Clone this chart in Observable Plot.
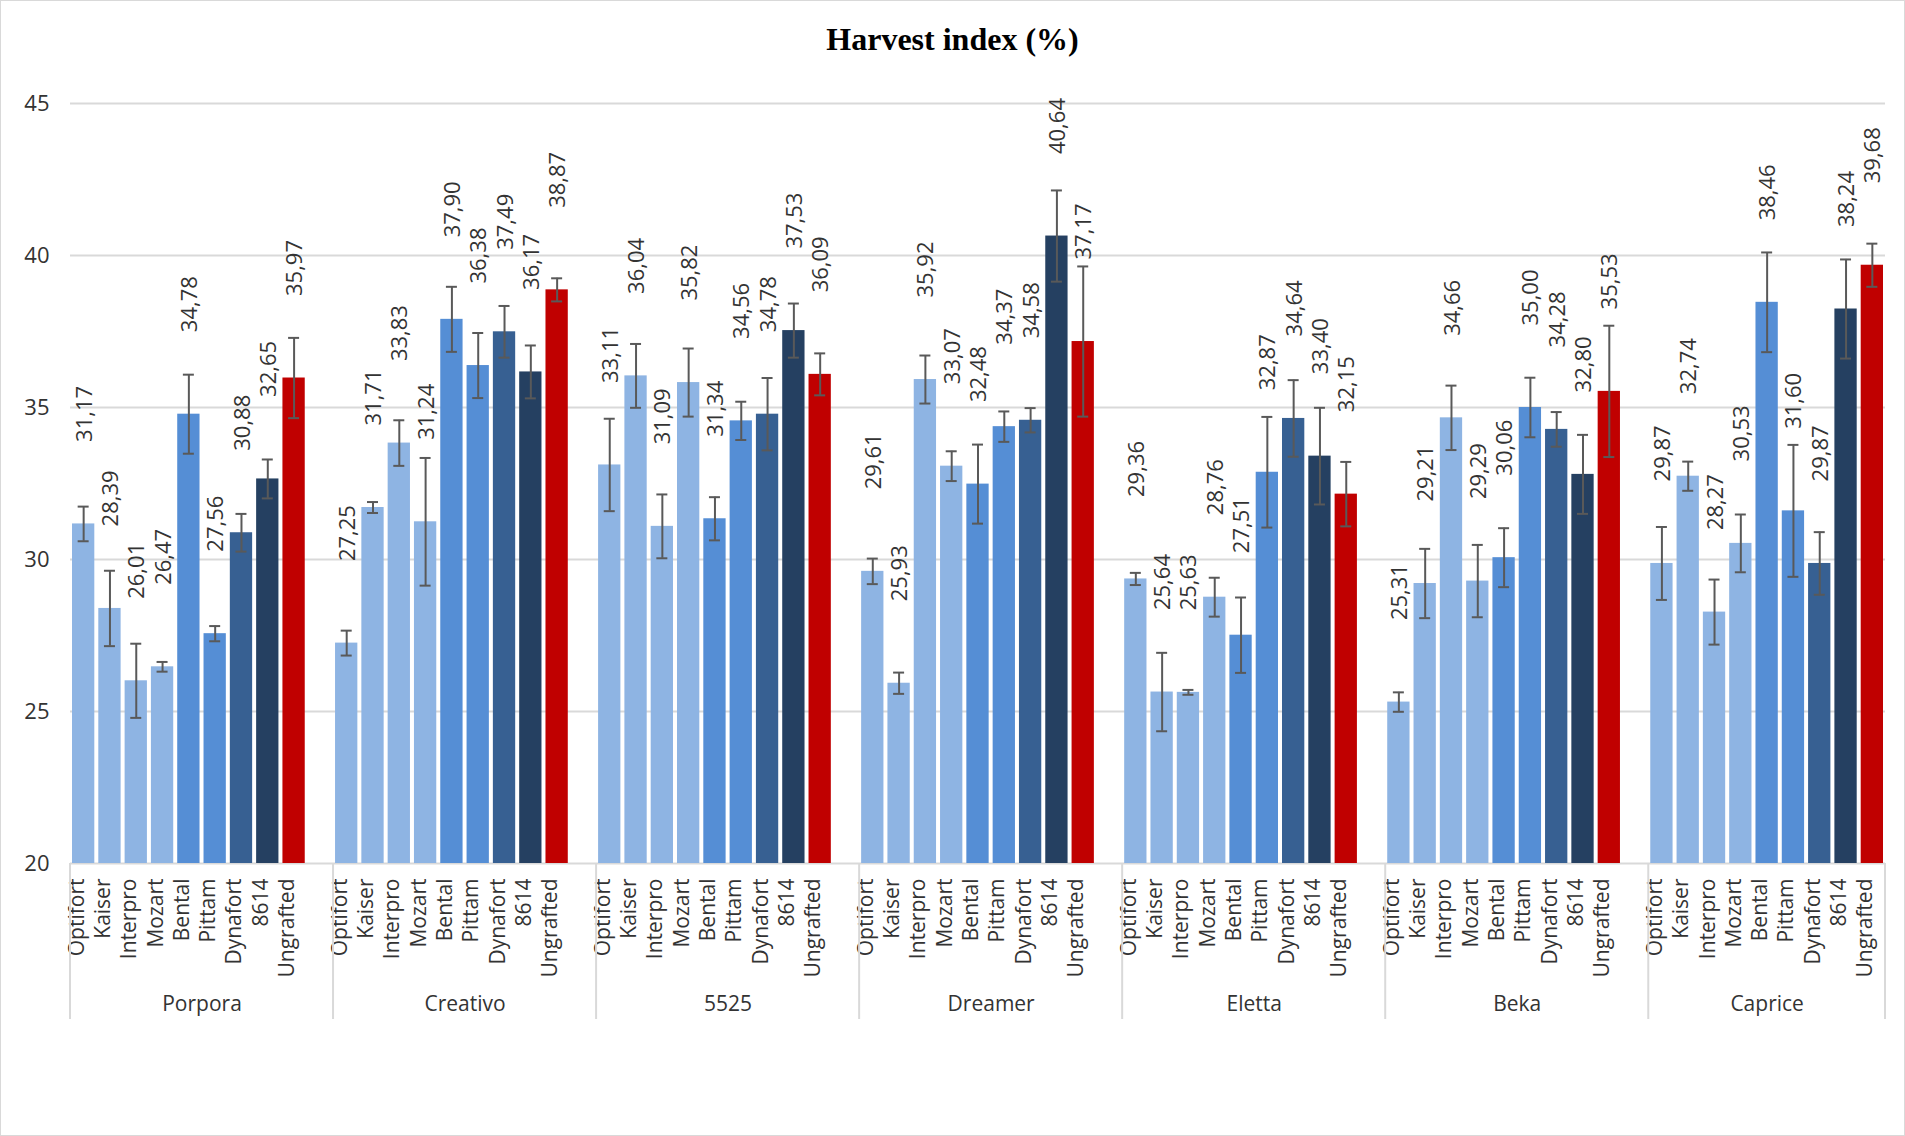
<!DOCTYPE html>
<html>
<head>
<meta charset="utf-8">
<script src="https://cdn.jsdelivr.net/npm/d3@7"></script>
<script src="https://cdn.jsdelivr.net/npm/@observablehq/plot@0.6"></script>
<style>
html, body { margin: 0; padding: 0; background: #fff; }
#frame { width: 1905px; height: 1136px; box-sizing: border-box; border: 1px solid #d9d9d9; background: #fff; overflow: hidden; }
#title { height: 70px; box-sizing: border-box; padding-top: 18px; line-height: 40px; text-align: center;
  font-family: "Liberation Serif", "Times New Roman", serif; font-weight: bold; font-size: 32px; color: #000; }
#chart svg { display: block; }
</style>
</head>
<body>
<div id="frame">
  <div id="title">Harvest index (%)</div>
  <div id="chart"></div>
</div>
<script>
// ---- data ----
const groups = ["Porpora", "Creativo", "5525", "Dreamer", "Eletta", "Beka", "Caprice"];
const rootstocks = ["Optifort", "Kaiser", "Interpro", "Mozart", "Bental", "Pittam", "Dynafort", "8614", "Ungrafted"];
const yTicks = [20, 25, 30, 35, 40, 45];

// harvest index means per group (in rootstock order)
const porpora  = [31.17, 28.39, 26.01, 26.47, 34.78, 27.56, 30.88, 32.65, 35.97];
const creativo = [27.25, 31.71, 33.83, 31.24, 37.90, 36.38, 37.49, 36.17, 38.87];
const g5525    = [33.11, 36.04, 31.09, 35.82, 31.34, 34.56, 34.78, 37.53, 36.09];
const dreamer  = [29.61, 25.93, 35.92, 33.07, 32.48, 34.37, 34.58, 40.64, 37.17];
const eletta   = [29.36, 25.64, 25.63, 28.76, 27.51, 32.87, 34.64, 33.40, 32.15];
const beka     = [25.31, 29.21, 34.66, 29.29, 30.06, 35.00, 34.28, 32.80, 35.53];
const caprice  = [29.87, 32.74, 28.27, 30.53, 38.46, 31.60, 29.87, 38.24, 39.68];

// error bar half-lengths
const errPorpora  = [0.57, 1.24, 1.22, 0.16, 1.30, 0.25, 0.62, 0.64, 1.32];
const errCreativo = [0.41, 0.18, 0.75, 2.10, 1.07, 1.07, 0.85, 0.87, 0.38];
const err5525     = [1.52, 1.05, 1.05, 1.12, 0.71, 0.63, 1.19, 0.89, 0.69];
const errDreamer  = [0.42, 0.35, 0.79, 0.49, 1.30, 0.50, 0.40, 1.50, 2.47];
const errEletta   = [0.20, 1.29, 0.08, 0.64, 1.24, 1.82, 1.26, 1.59, 1.06];
const errBeka     = [0.32, 1.14, 1.06, 1.19, 0.97, 0.98, 0.57, 1.30, 2.16];
const errCaprice  = [1.20, 0.48, 1.07, 0.95, 1.64, 2.17, 1.03, 1.63, 0.71];

// ---- styles ----
const colors = ["#8EB4E3", "#8EB4E3", "#8EB4E3", "#8EB4E3", "#558ED5", "#558ED5", "#376092", "#254061", "#C00000"];

// ---- build table ----
const groupValues = [porpora, creativo, g5525, dreamer, eletta, beka, caprice];
const groupErrors = [errPorpora, errCreativo, err5525, errDreamer, errEletta, errBeka, errCaprice];
const SPACER = "__spacer__";
const key = (g, r) => g + "|" + r;
const slots = [];
groups.forEach((g, i) => {
  rootstocks.forEach(r => slots.push(key(g, r)));
  if (i < groups.length - 1) slots.push(key(g, SPACER));
});
const rows = [];
groups.forEach((g, i) => rootstocks.forEach((r, j) => rows.push({
  group: g, rootstock: r, key: key(g, r), value: groupValues[i][j], err: groupErrors[i][j]
})));

const W = 1903, H = 1064, ML = 69, MR = 19, MT = 32, MB = 272;
const slotW = (W - ML - MR) / slots.length;
const capInset = (slotW - 11) / 2;
const fmt = v => d3.format(".2f")(v).replace(".", ",");
const lineColor = "#d9d9d9";

function separators(index, scales) {
  const g = d3.create("svg:g").attr("stroke", lineColor).attr("stroke-width", 2);
  const y0 = scales.y(yTicks[0]);
  const xs = groups.map(gr => scales.x(key(gr, rootstocks[0])));
  xs.push(scales.x(slots[slots.length - 1]) + slotW);
  for (const x of xs) {
    g.append("line").attr("x1", x).attr("x2", x).attr("y1", y0).attr("y2", y0 + 156);
  }
  return g.node();
}

const chart = Plot.plot({
  width: W, height: H,
  marginLeft: ML, marginRight: MR, marginTop: MT, marginBottom: MB,
  style: { fontFamily: "'Open Sans', sans-serif", background: "white", color: "#333", overflow: "visible" },
  x: { type: "band", domain: slots, paddingInner: 0, paddingOuter: 0, round: false, axis: null },
  y: { domain: [yTicks[0], yTicks[yTicks.length - 1]], axis: null },
  color: { domain: rootstocks, range: colors },
  marks: [
    Plot.ruleY(yTicks, { stroke: lineColor, strokeWidth: 2 }),
    Plot.axisY({ ticks: yTicks, tickSize: 0, tickPadding: 21, fontSize: 22, label: null, tickFormat: d => String(d), fill: "#333" }),
    Plot.barY(rows, { x: "key", y1: yTicks[0], y2: "value", fill: "rootstock", insetLeft: 2, insetRight: 2 }),
    Plot.ruleX(rows, { x: "key", y1: d => d.value - d.err, y2: d => d.value + d.err, stroke: "#595959", strokeWidth: 2 }),
    Plot.tickY(rows, { x: "key", y: d => d.value - d.err, stroke: "#595959", strokeWidth: 2, insetLeft: capInset, insetRight: capInset }),
    Plot.tickY(rows, { x: "key", y: d => d.value + d.err, stroke: "#595959", strokeWidth: 2, insetLeft: capInset, insetRight: capInset }),
    Plot.text(rows, { x: "key", y: "value", text: d => fmt(d.value), rotate: -90, textAnchor: "start", dy: -82, dx: 1, fontSize: 22, fill: "#333" }),
    Plot.text(rows, { x: "key", frameAnchor: "bottom", text: "rootstock", rotate: -90, textAnchor: "end", dy: 15, fontSize: 21, fill: "#333" }),
    separators,
    Plot.text(groups.slice(0, -1), { x: g => key(g, rootstocks[5]), frameAnchor: "bottom", dx: -slotW / 2, dy: 147, text: d => d, fontSize: 21, fill: "#333" }),
    Plot.text(groups.slice(-1), { x: g => key(g, rootstocks[4]), frameAnchor: "bottom", dy: 147, text: d => d, fontSize: 21, fill: "#333" })
  ]
});
document.getElementById("chart").appendChild(chart);
</script>
</body>
</html>
